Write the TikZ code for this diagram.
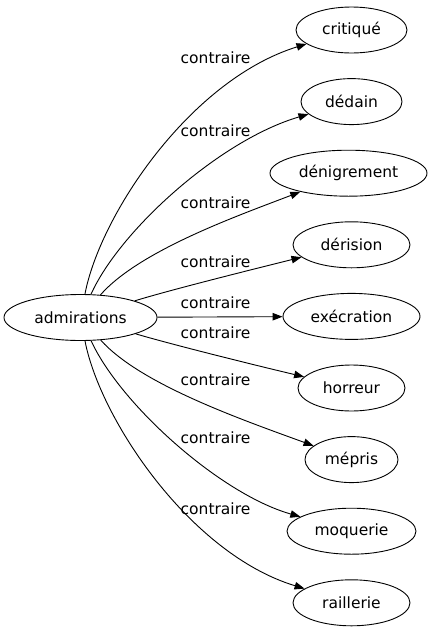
\documentclass[tikz,border=0pt]{standalone}
\usepackage{fontspec}
\setmainfont{DejaVu Sans}
\usetikzlibrary{shapes.geometric,arrows.meta}
\begin{document}
\begin{tikzpicture}[x=1pt,y=-1pt,
  every node/.style={font=\fontsize{15.5}{18}\selectfont},
  word/.style={draw,ellipse,line width=0.9pt,inner sep=0pt,minimum height=46pt},
  lbl/.style={inner sep=0pt},
  rel/.style={line width=0.9pt,-{Triangle[length=10pt,width=7.5pt]}}]
\useasboundingbox (0,0) rectangle (436,635);
\node[word,minimum width=153pt] (a) at (80.5,317.5) {admirations};
\node[word,minimum width=111pt] (b1) at (351.5,30) {critiqué};
\node[word,minimum width=101pt] (b2) at (351.5,101.6) {dédain};
\node[word,minimum width=157pt] (b3) at (348.5,173.2) {dénigrement};
\node[word,minimum width=117pt] (b4) at (351.5,244.8) {dérision};
\node[word,minimum width=137pt] (b5) at (351.5,316.4) {exécration};
\node[word,minimum width=107pt] (b6) at (351.5,388) {horreur};
\node[word,minimum width=93pt] (b7) at (351.5,459.6) {mépris};
\node[word,minimum width=129pt] (b8) at (351.5,531.2) {moquerie};
\node[word,minimum width=117pt] (b9) at (351.5,602.8) {raillerie};
\draw[rel] (a) .. controls (100,215) and (190,80) .. (b1);
\draw[rel] (a) .. controls (120,230) and (220,140) .. (b2);
\draw[rel] (a) .. controls (140,250) and (240,215) .. (b3);
\draw[rel] (a) .. controls (170,290) and (250,270) .. (b4);
\draw[rel] (a) -- (b5);
\draw[rel] (a) .. controls (170,344) and (250,364) .. (b6);
\draw[rel] (a) .. controls (140,384) and (240,419) .. (b7);
\draw[rel] (a) .. controls (120,404) and (220,494) .. (b8);
\draw[rel] (a) .. controls (100,419) and (190,554) .. (b9);
\node[lbl] (l1) at (215.5,58) {contraire};
\node[lbl] (l2) at (215.5,131) {contraire};
\node[lbl] (l3) at (215.5,203) {contraire};
\node[lbl] (l4) at (215.5,262) {contraire};
\node[lbl] (l5) at (215.5,303) {contraire};
\node[lbl] (l6) at (215.5,333) {contraire};
\node[lbl] (l7) at (215.5,380) {contraire};
\node[lbl] (l8) at (215.5,438) {contraire};
\node[lbl] (l9) at (215.5,509) {contraire};
\end{tikzpicture}
\end{document}
